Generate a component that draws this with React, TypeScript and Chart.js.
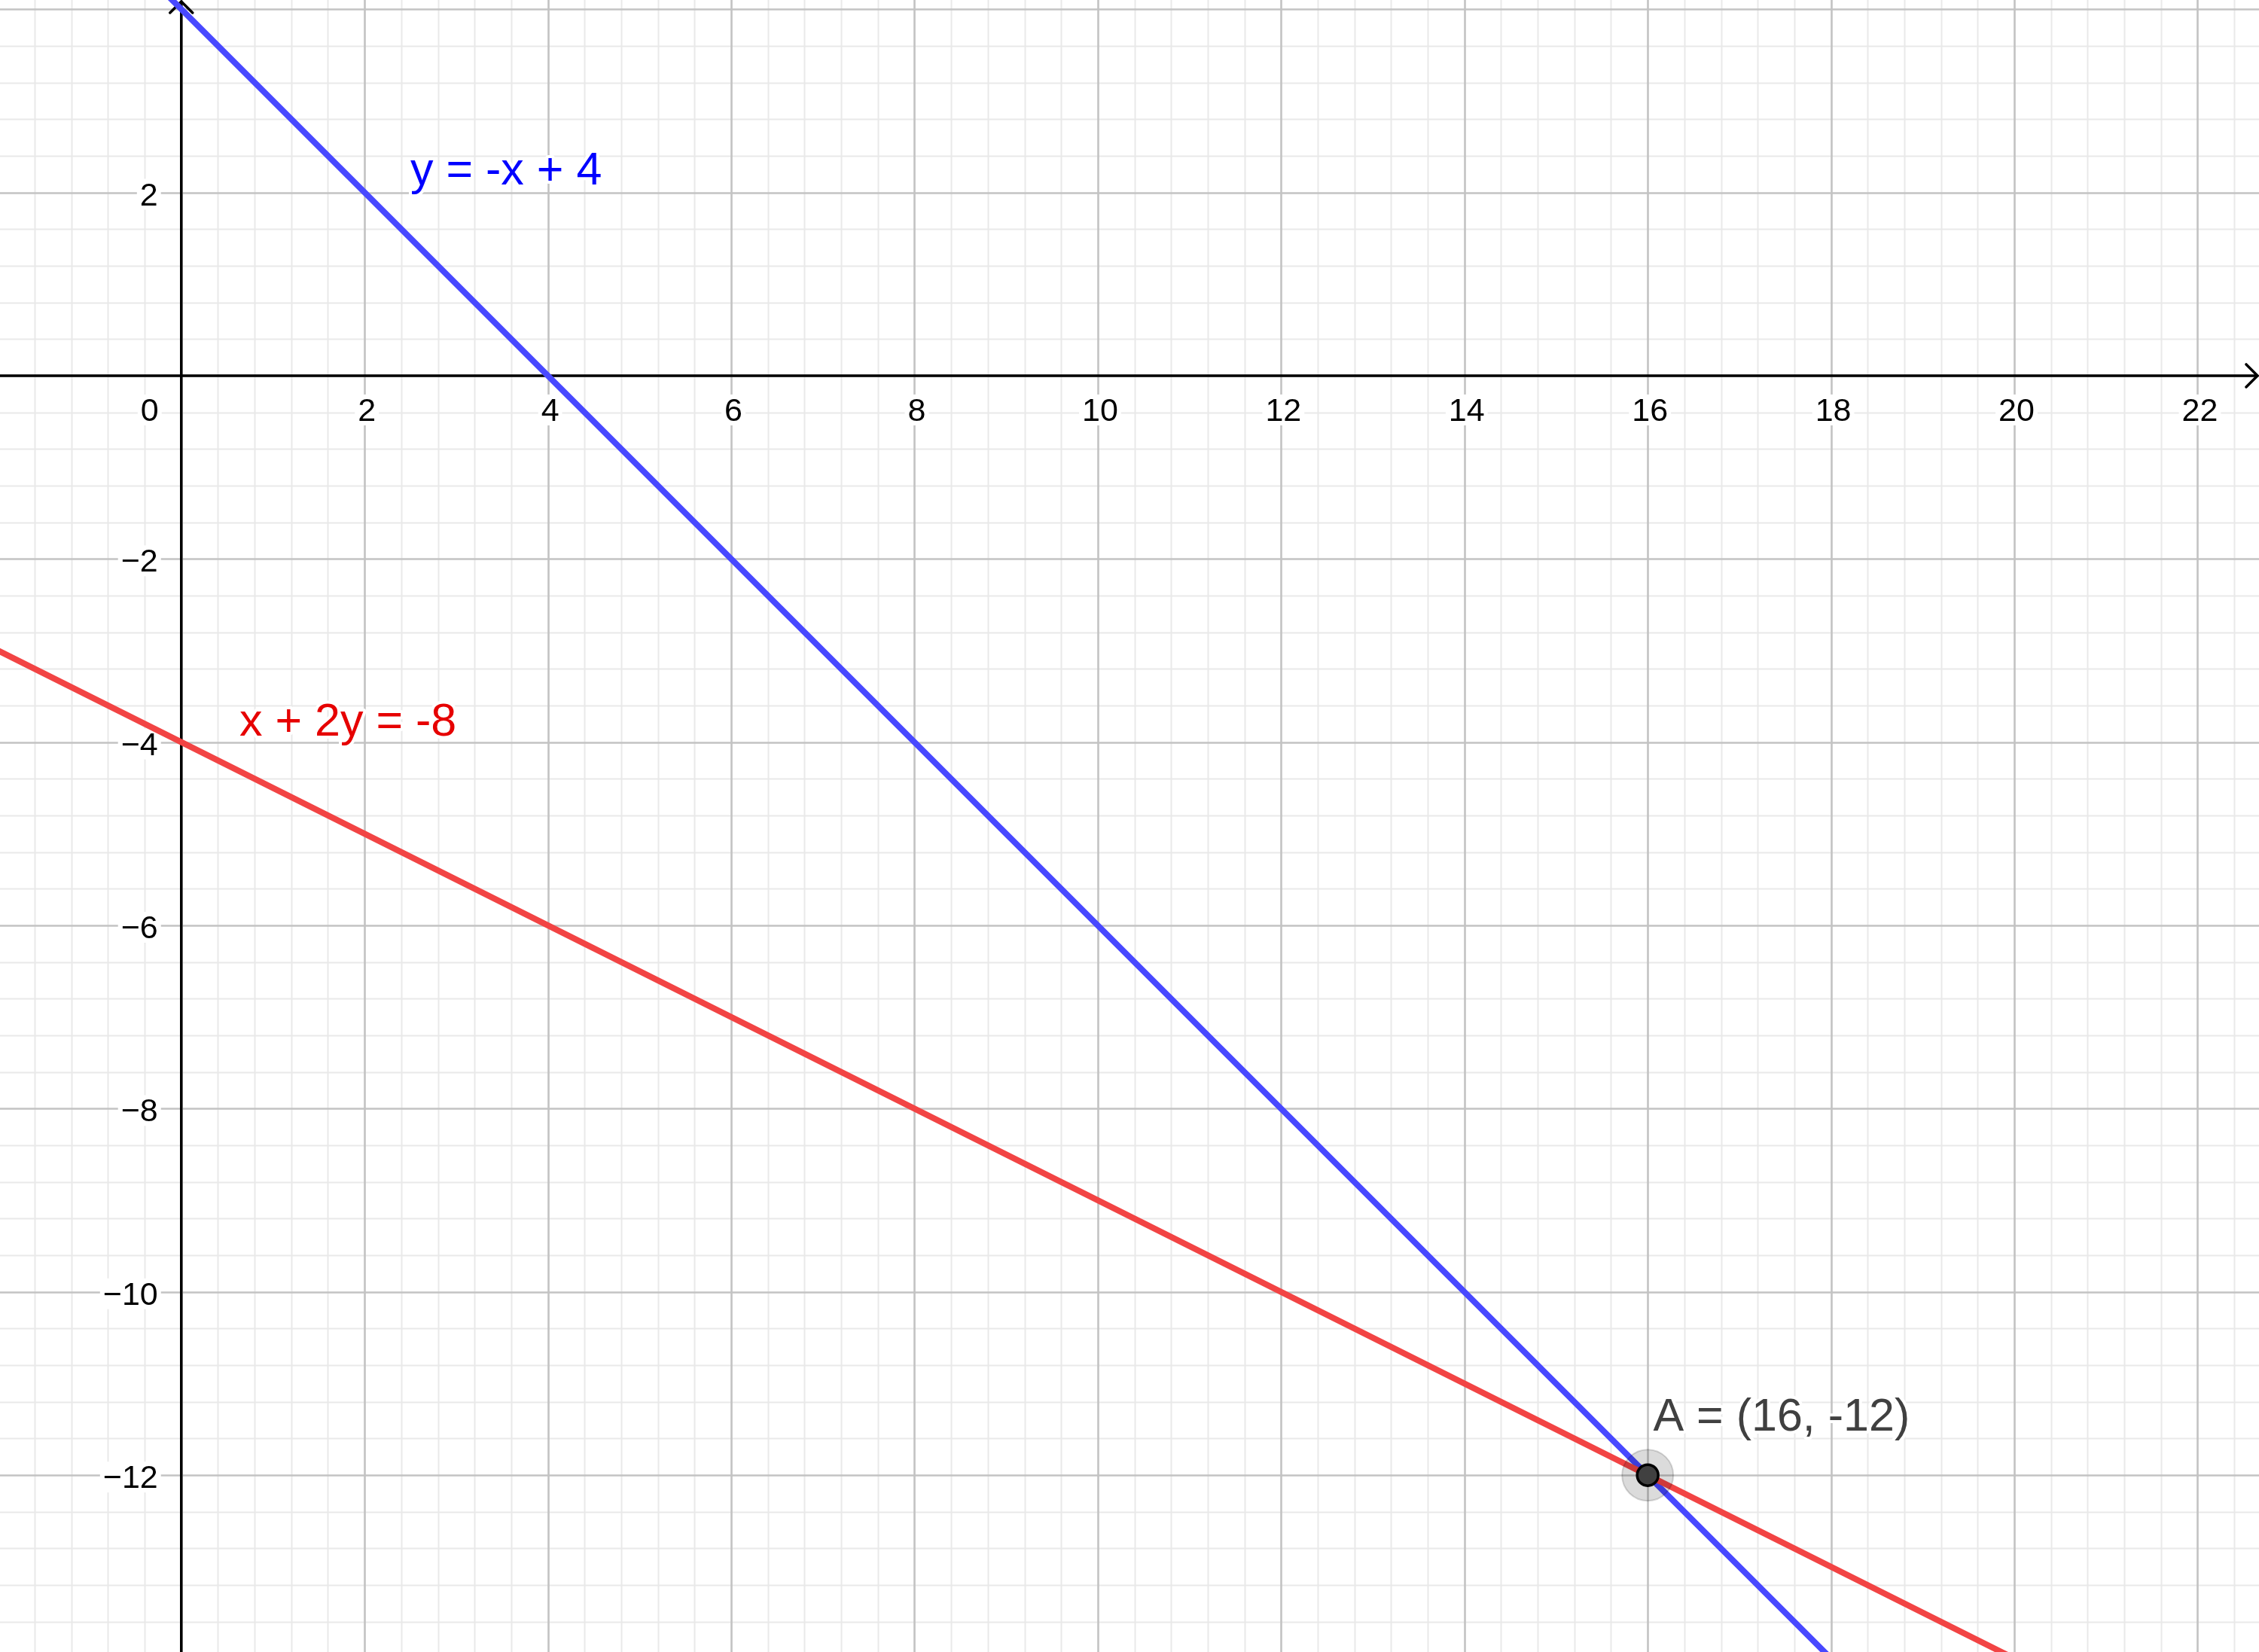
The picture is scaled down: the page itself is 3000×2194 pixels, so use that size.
import React, { useEffect, useRef } from "react";
import { Chart, registerables } from "chart.js";

Chart.register(...registerables);

// ---- data ----
const xRange = [-1.978, 22.67];
const yRange = [-13.93, 4.1];
const minorStep = 0.4;
const majorEvery = 5; // minor steps per major line

const xTickValues = [2, 4, 6, 8, 10, 12, 14, 16, 18, 20, 22];
const yTickValues = [2, -2, -4, -6, -8, -10, -12];
const originLabel = "0";

const blueX = [-2, 24];
const blueY = [6, -20];
const redX = [-2, 24];
const redY = [-3, -16];
const pointX = [16];
const pointY = [-12];

const labelTexts = ["y = -x + 4", "x + 2y = -8", "A = (16, -12)"];
const labelX = [2.5, 0.635, 16.06];
const labelY = [2.087, -3.93, -11.51];
const labelColors = ["#0000ff", "#e60000", "#404040"];

const BLUE_LINE = "rgb(72,72,255)";
const RED_LINE = "rgb(242,68,68)";
const FONT = '"Liberation Sans", Arial, sans-serif';

const fmt = (v: number) => (v < 0 ? "\u2212" + Math.abs(v) : String(v));

const gridPlugin = {
  id: "geoGrid",
  beforeDatasetsDraw(chart: any) {
    const { ctx, scales, chartArea } = chart;
    const xs = scales.x;
    const ys = scales.y;
    ctx.save();
    const drawSet = (major: boolean) => {
      ctx.strokeStyle = major ? "#c3c3c3" : "#e9e9e9";
      ctx.lineWidth = major ? 2.6 : 2;
      ctx.beginPath();
      for (let i = Math.ceil(xRange[0] / minorStep); i <= Math.floor(xRange[1] / minorStep); i++) {
        if ((i % majorEvery === 0) !== major) continue;
        const px = Math.round(xs.getPixelForValue(i * minorStep)) + 0.5;
        ctx.moveTo(px, chartArea.top);
        ctx.lineTo(px, chartArea.bottom);
      }
      for (let i = Math.ceil(yRange[0] / minorStep); i <= Math.floor(yRange[1] / minorStep); i++) {
        if ((i % majorEvery === 0) !== major) continue;
        const py = Math.round(ys.getPixelForValue(i * minorStep)) + 0.5;
        ctx.moveTo(chartArea.left, py);
        ctx.lineTo(chartArea.right, py);
      }
      ctx.stroke();
    };
    drawSet(false);
    drawSet(true);

    // axes
    const x0 = xs.getPixelForValue(0);
    const y0 = ys.getPixelForValue(0);
    ctx.strokeStyle = "#000";
    ctx.lineWidth = 3.5;
    ctx.lineCap = "butt";
    ctx.beginPath();
    ctx.moveTo(chartArea.left, y0);
    ctx.lineTo(chartArea.right - 2, y0);
    ctx.moveTo(x0, chartArea.bottom);
    ctx.lineTo(x0, chartArea.top + 2);
    ctx.stroke();
    // arrows
    const a = 15;
    ctx.lineCap = "round";
    ctx.beginPath();
    ctx.moveTo(chartArea.right - 2 - a, y0 - a);
    ctx.lineTo(chartArea.right - 2, y0);
    ctx.lineTo(chartArea.right - 2 - a, y0 + a);
    ctx.moveTo(x0 - a, chartArea.top + 2 + a);
    ctx.lineTo(x0, chartArea.top + 2);
    ctx.lineTo(x0 + a, chartArea.top + 2 + a);
    ctx.stroke();

    // tick labels
    ctx.font = "43px " + FONT;
    ctx.fillStyle = "#000";
    const drawLabel = (text: string, x: number, baseline: number, align: "center" | "right") => {
      ctx.textAlign = align;
      ctx.textBaseline = "alphabetic";
      const w = ctx.measureText(text).width;
      const left = align === "center" ? x - w / 2 : x - w;
      ctx.fillStyle = "#fff";
      ctx.fillRect(left - 4, baseline - 35, w + 8, 41);
      ctx.fillStyle = "#000";
      ctx.fillText(text, x, baseline);
    };
    xTickValues.forEach((v) => {
      drawLabel(fmt(v), xs.getPixelForValue(v) + 3, y0 + 60, "center");
    });
    yTickValues.forEach((v) => {
      drawLabel(fmt(v), x0 - 31, ys.getPixelForValue(v) + 17, "right");
    });
    drawLabel(originLabel, x0 - 30, y0 + 60, "right");
    ctx.restore();
  },
  afterDatasetsDraw(chart: any) {
    const { ctx, scales } = chart;
    ctx.save();
    ctx.font = "61px " + FONT;
    ctx.textAlign = "left";
    ctx.textBaseline = "alphabetic";
    ctx.lineJoin = "round";
    labelTexts.forEach((t, i) => {
      const px = scales.x.getPixelForValue(labelX[i]);
      const py = scales.y.getPixelForValue(labelY[i]);
      ctx.strokeStyle = "#fff";
      ctx.lineWidth = 8;
      ctx.strokeText(t, px, py);
      ctx.fillStyle = labelColors[i];
      ctx.fillText(t, px, py);
    });
    ctx.restore();
  },
};

export default function App() {
  const ref = useRef<HTMLCanvasElement | null>(null);
  useEffect(() => {
    if (!ref.current) return;
    const toPts = (xs: number[], ys: number[]) => xs.map((x, i) => ({ x, y: ys[i] }));
    const chart = new Chart(ref.current, {
      type: "scatter",
      data: {
        datasets: [
          {
            data: toPts(blueX, blueY),
            showLine: true,
            borderColor: BLUE_LINE,
            borderWidth: 8,
            pointRadius: 0,
            order: 4,
          },
          {
            data: toPts(redX, redY),
            showLine: true,
            borderColor: RED_LINE,
            borderWidth: 8,
            pointRadius: 0,
            order: 3,
          },
          {
            data: toPts(pointX, pointY),
            pointRadius: 34,
            backgroundColor: "rgba(0,0,0,0.14)",
            borderColor: "rgba(0,0,0,0.16)",
            borderWidth: 2,
            order: 2,
          },
          {
            data: toPts(pointX, pointY),
            pointRadius: 14,
            backgroundColor: "#404040",
            borderColor: "#000",
            borderWidth: 3.5,
            order: 1,
          },
        ],
      },
      options: {
        animation: false,
        responsive: false,
        devicePixelRatio: 1,
        events: [],
        layout: { padding: 0, autoPadding: false },
        plugins: { legend: { display: false }, tooltip: { enabled: false } },
        scales: {
          x: { type: "linear", min: xRange[0], max: xRange[1], display: false },
          y: { type: "linear", min: yRange[0], max: yRange[1], display: false },
        },
      },
      plugins: [gridPlugin],
    });
    return () => chart.destroy();
  }, []);
  return (
    <div style={{ position: "absolute", left: 0, top: 0, width: 3000, height: 2194, background: "#fff" }}>
      <canvas ref={ref} width={3000} height={2194} style={{ display: "block" }} />
    </div>
  );
}
